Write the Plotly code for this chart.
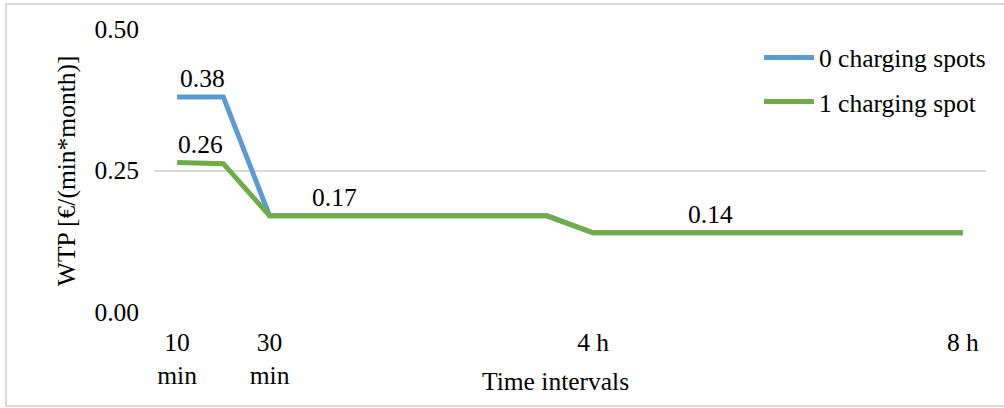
import plotly.graph_objects as go

# Time intervals (category axis) and willingness-to-pay series
categories = ["10 min", "20 min", "30 min", "1 h", "1.5 h", "2 h", "2.5 h", "3 h",
              "3.5 h", "4 h", "4.5 h", "5 h", "5.5 h", "6 h", "6.5 h", "7 h",
              "7.5 h", "8 h"]
wtp_0_spots = [0.38, 0.38, 0.17, 0.17, 0.17, 0.17, 0.17, 0.17, 0.17,
               0.14, 0.14, 0.14, 0.14, 0.14, 0.14, 0.14, 0.14, 0.14]
wtp_1_spot = [0.264, 0.262, 0.17, 0.17, 0.17, 0.17, 0.17, 0.17, 0.17,
              0.14, 0.14, 0.14, 0.14, 0.14, 0.14, 0.14, 0.14, 0.14]

# Tick labels shown on the x axis
tick_cats = ["10 min", "30 min", "4 h", "8 h"]
tick_text = ["10<br>min", "30<br>min", "4 h", "8 h"]
y_ticks = [0.0, 0.25, 0.5]

# Value labels: (series, point index, horizontal position in category units)
value_labels = [(wtp_0_spots, 0, 0.55), (wtp_1_spot, 0, 0.5),
                (wtp_1_spot, 2, 3.4), (wtp_1_spot, 9, 11.55)]

FONT = "Liberation Serif"
FS = 25.5

fig = go.Figure()
fig.add_trace(go.Scatter(x=categories, y=wtp_0_spots, mode="lines",
                         name="0 charging spots", legendgroup="a",
                         line=dict(color="#5B9BD5", width=5)))
fig.add_trace(go.Scatter(x=categories, y=wtp_1_spot, mode="lines",
                         name="1 charging spot", legendgroup="b",
                         line=dict(color="#70AD47", width=5)))

for series, idx, xpos in value_labels:
    fig.add_annotation(x=xpos, y=series[idx], xref="x", yref="y",
                       text=f"{series[idx]:.2f}", showarrow=False,
                       yshift=18, yanchor="middle",
                       font=dict(family=FONT, size=FS, color="#000000"))

# Axis titles
fig.add_annotation(text="WTP [€/(min*month)]", xref="paper", yref="paper",
                   x=-0.105, y=0.5, textangle=-90, showarrow=False,
                   xanchor="center", yanchor="middle",
                   font=dict(family=FONT, size=FS, color="#000000"))
fig.add_annotation(text="Time intervals", xref="paper", yref="paper",
                   x=0.482, y=-0.244, showarrow=False,
                   xanchor="center", yanchor="middle",
                   font=dict(family=FONT, size=FS, color="#000000"))

# Chart-area border
fig.add_shape(type="rect", xref="paper", yref="paper",
              x0=-0.178, x1=1.04, y0=-0.332, y1=1.088,
              line=dict(color="#D9D9D9", width=2), layer="below")

fig.update_layout(
    width=1004, height=408,
    margin=dict(l=154, r=18, t=29, b=96),
    paper_bgcolor="white", plot_bgcolor="white",
    font=dict(family=FONT, size=FS, color="#000000"),
    legend=dict(x=1.006, y=0.981, xanchor="right", yanchor="top",
                bgcolor="rgba(0,0,0,0)", itemwidth=50,
                font=dict(family=FONT, size=FS, color="#000000"),
                tracegroupgap=8),
    showlegend=True,
)
fig.update_xaxes(type="category", categoryorder="array", categoryarray=categories,
                 range=[-0.5, len(categories) - 0.5],
                 tickmode="array", tickvals=tick_cats, ticktext=tick_text,
                 showgrid=False, zeroline=False, showline=False, ticks="",
                 ticklabelstandoff=12)
fig.update_yaxes(range=[0, 0.5], tickmode="array", tickvals=y_ticks,
                 tickformat=".2f", showgrid=True, gridcolor="#D9D9D9",
                 gridwidth=1.5, zeroline=False, showline=False, ticks="",
                 ticklabelstandoff=14)

fig.write_html("out.html")
